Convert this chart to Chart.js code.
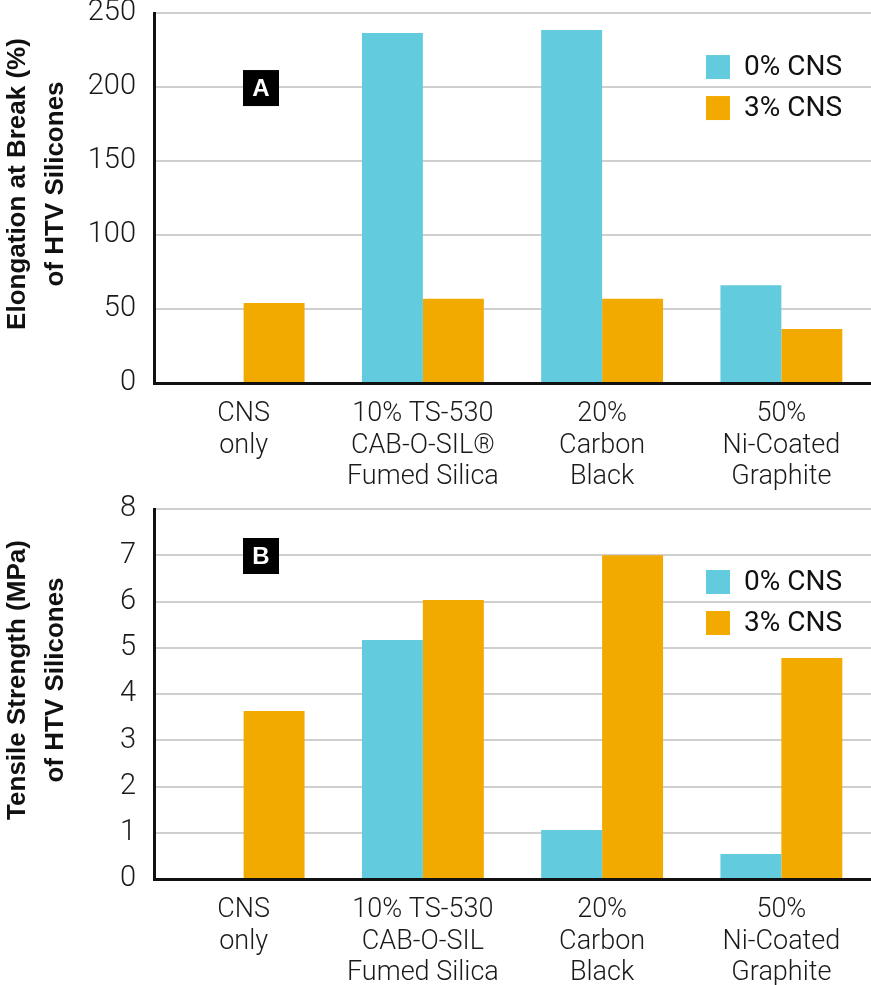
<!DOCTYPE html>
<html>
<head>
<meta charset="utf-8">
<script src="https://cdn.jsdelivr.net/npm/chart.js@4"></script>
<style>
  body { margin: 0; background: #fff; }
  canvas { display: block; }
</style>
</head>
<body>
<canvas id="chartA" width="871" height="490"></canvas>
<canvas id="chartB" width="871" height="495"></canvas>
<script>
// categories (multi-line labels)
var categoriesA = [["CNS", "only"], ["10% TS-530", "CAB-O-SIL\u00AE", "Fumed Silica"], ["20%", "Carbon", "Black"], ["50%", "Ni-Coated", "Graphite"]];
var categoriesB = [["CNS", "only"], ["10% TS-530", "CAB-O-SIL", "Fumed Silica"], ["20%", "Carbon", "Black"], ["50%", "Ni-Coated", "Graphite"]];

var seriesNames = ["0% CNS", "3% CNS"];

// elongation at break (%)
var elongation0 = [null, 236.5, 238.5, 66];
var elongation3 = [54, 57, 57, 36.5];

// tensile strength (MPa)
var tensile0 = [null, 5.17, 1.06, 0.54];
var tensile3 = [3.63, 6.03, 7.0, 4.78];

var blue = "#62cbdd";
var orange = "#f2a900";

//draws rotated axis title, letter badge and legend
var decorPlugin = {
    id: "decor",
    afterDraw: function (chart, args, opts) {
        var ctx = chart.ctx;
        var area = chart.chartArea;
        var midY = (area.top + area.bottom) / 2 - 14;

        ctx.save();
        ctx.fillStyle = "#111";
        ctx.font = "bold 26px 'Liberation Sans', Arial, sans-serif";
        ctx.textAlign = "center";
        ctx.textBaseline = "middle";
        ctx.translate(0, midY);
        ctx.rotate(-Math.PI / 2);
        ctx.fillText(opts.title[0], 0, 18);
        ctx.fillText(opts.title[1], 0, 56);
        ctx.restore();

        // letter badge
        ctx.save();
        var bx = area.left + 89;
        var by = area.top + opts.badgeY;
        ctx.fillStyle = "#000";
        ctx.fillRect(bx, by, 36, 36);
        ctx.fillStyle = "#fff";
        ctx.font = "bold 24px 'Liberation Sans', Arial, sans-serif";
        ctx.textAlign = "center";
        ctx.textBaseline = "middle";
        ctx.fillText(opts.letter, bx + 18, by + 19);
        ctx.restore();

        // legend
        ctx.save();
        ctx.font = "28px Roboto, sans-serif";
        ctx.textBaseline = "middle";
        ctx.textAlign = "left";
        chart.data.datasets.forEach(function (ds, i) {
            var ly = area.top + opts.legendY + i * 41;
            ctx.fillStyle = ds.backgroundColor;
            ctx.fillRect(706, ly, 24, 24);
            ctx.fillStyle = "#111";
            ctx.fillText(ds.label, 744, ly + 13);
        });
        ctx.restore();
    }
};

function makeChart(id, labels, d0, d1, maxY, step, areaTop, xHeight, decor) {
    var ctx = document.getElementById(id).getContext("2d");
    return new Chart(ctx, {
        type: "bar",
        data: {
            labels: labels,
            datasets: [
                { label: seriesNames[0], data: d0, backgroundColor: blue },
                { label: seriesNames[1], data: d1, backgroundColor: orange }
            ]
        },
        options: {
            responsive: false,
            animation: false,
            layout: { padding: { top: areaTop, right: 0, left: 0, bottom: 0 } },
            datasets: { bar: { barPercentage: 1, categoryPercentage: 0.68 } },
            plugins: {
                legend: { display: false },
                tooltip: { enabled: false },
                decor: decor
            },
            scales: {
                x: {
                    grid: { display: false },
                    border: { color: "#111", width: 3 },
                    ticks: {
                        color: "#1a1a1a",
                        font: { family: "Roboto", size: 27, weight: 300, lineHeight: 1.16 },
                        padding: 8,
                        maxRotation: 0,
                        autoSkip: false
                    },
                    afterFit: function (scale) { scale.height = xHeight; }
                },
                y: {
                    min: 0,
                    max: maxY,
                    // invisible tick marks give the label gap without padding the plot top
                    grid: { color: "#cfcfcf", lineWidth: 2, drawTicks: true, tickLength: 18, tickColor: "rgba(0,0,0,0)" },
                    border: { color: "#111", width: 3 },
                    ticks: {
                        stepSize: step,
                        color: "#1a1a1a",
                        font: { family: "Roboto", size: 29, weight: 300, lineHeight: 0.9 },
                        padding: 0
                    },
                    afterFit: function (scale) { scale.width = 154; }
                }
            }
        },
        plugins: [decorPlugin]
    });
}

window.chartA = makeChart("chartA", categoriesA, elongation0, elongation3, 250, 50, 13, 107,
    { title: ["Elongation at Break (%)", "of HTV Silicones"], letter: "A", badgeY: 57, legendY: 42 });
window.chartB = makeChart("chartB", categoriesB, tensile0, tensile3, 8, 1, 19, 106,
    { title: ["Tensile Strength (MPa)", "of HTV Silicones"], letter: "B", badgeY: 29, legendY: 61 });
</script>
</body>
</html>
